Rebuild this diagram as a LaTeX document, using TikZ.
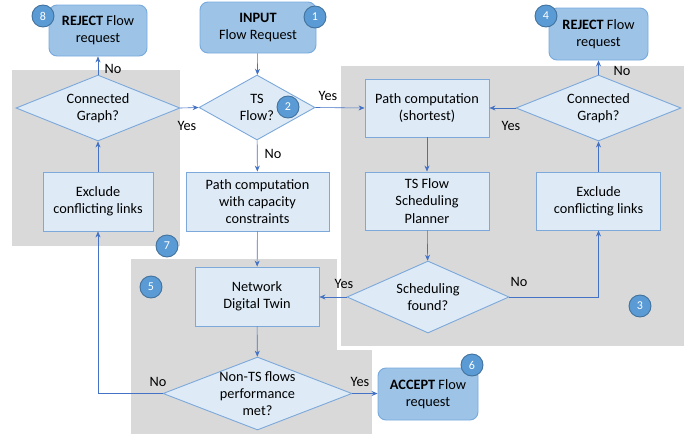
\documentclass[tikz,border=0pt]{standalone}
\usepackage{fontspec}
\setmainfont{Carlito}
\usepackage{tikz}
\usetikzlibrary{arrows.meta, shapes.geometric, calc}
\definecolor{Panel}{RGB}{217,217,217}
\definecolor{Box_Fill}{RGB}{222,235,247}
\definecolor{Box_Line}{RGB}{124,168,218}
\definecolor{End_Fill}{RGB}{157,195,230}
\definecolor{End_Line}{RGB}{120,170,222}
\definecolor{Badge_Fill}{RGB}{91,155,213}
\definecolor{Badge_Line}{RGB}{65,113,156}
\definecolor{Arrow}{RGB}{68,114,196}

\tikzset{
    box/.style={rectangle, draw=Box_Line, fill=Box_Fill, align=center, inner sep=0pt, line width=0.9pt},
    endbox/.style={rectangle, rounded corners=8pt, draw=End_Line, fill=End_Fill, align=center, inner sep=0pt, line width=0.9pt},
    decision/.style={diamond, draw=Box_Line, fill=Box_Fill, inner sep=0pt, line width=0.9pt},
    badge/.style={circle, draw=Badge_Line, fill=Badge_Fill, text=white, minimum size=22pt, inner sep=0pt, line width=0.9pt, font=\fontsize{12}{14}\selectfont},
    flow/.style={draw=Arrow, line width=0.6pt, -{Stealth[length=6pt,width=5pt]}},
}

\begin{document}
\begin{tikzpicture}[x=1pt, y=-1pt, font=\fontsize{14.3}{17.3}\selectfont]
    %% Background
    \useasboundingbox (0,0) rectangle (694,434);

    %% Panels
    \fill[Panel] (12,70) rectangle (180,246);
    \fill[Panel] (131,259) rectangle (372,434);
    \fill[white] (337,62) rectangle (688,350);
    \fill[Panel] (341,66) rectangle (684,346);

    %% Start and end
    \node[endbox, minimum width=116pt, minimum height=51pt] (input) at (258,27.5) {\textbf{INPUT}\\Flow Request};
    \node[endbox, minimum width=98pt, minimum height=51pt] (rejL) at (98,30.5) {\textbf{REJECT} Flow\\request};
    \node[endbox, minimum width=99pt, minimum height=52pt] (rejR) at (598.5,34) {\textbf{REJECT} Flow\\request};
    \node[endbox, minimum width=100pt, minimum height=52pt] (accept) at (428,394) {\textbf{ACCEPT} Flow\\request};

    %% Decisions
    \node[decision, minimum width=116pt, minimum height=65pt,
        label={[align=center]center:TS\\Flow?}] (tsflow) at (257,107.5) {};
    \node[decision, minimum width=164pt, minimum height=66pt,
        label={[align=center]center:Connected\\Graph?}] (cgL) at (98,108) {};
    \node[decision, minimum width=165pt, minimum height=66pt,
        label={[align=center]center:Connected\\Graph?}] (cgR) at (598.5,108) {};
    \node[decision, minimum width=162pt, minimum height=72pt,
        label={[align=center]center:Scheduling\\found?}] (sched) at (428,297) {};
    \node[decision, minimum width=189pt, minimum height=73pt,
        label={[align=center]center:Non-TS flows\\performance\\met?}] (nonts) at (257.5,393.5) {};

    %% Steps
    \node[box, minimum width=124pt, minimum height=58pt] (pathS) at (427,108) {Path computation\\(shortest)};
    \node[box, minimum width=124pt, minimum height=58pt] (plan) at (427,201) {TS Flow\\Scheduling\\Planner};
    \node[box, minimum width=124pt, minimum height=58pt] (exR) at (598.5,201) {Exclude\\conflicting links};
    \node[box, minimum width=110pt, minimum height=59pt] (exL) at (98,201.5) {Exclude\\conflicting links};
    \node[box, minimum width=143pt, minimum height=59pt] (pathC) at (257.5,201.5) {Path computation\\with capacity\\constraints};
    \node[box, minimum width=124pt, minimum height=59pt] (ndt) at (257,296.5) {Network\\Digital Twin};

    %% Connectors
    \draw[flow] (input) -- (tsflow);
    \draw[flow] (tsflow.east) -- (pathS.west);
    \draw[flow] (tsflow) -- (pathC);
    \draw[flow] (pathC) -- (ndt);
    \draw[flow] (pathS) -- (plan);
    \draw[flow] (plan) -- (sched);
    \draw[flow] (sched.west) -- (sched.west -| ndt.east);
    \draw[flow] (sched.east) -| (exR.south);
    \draw[flow] (exR) -- (cgR);
    \draw[flow] (cgR.west) -- (cgR.west -| pathS.east);
    \draw[flow] (cgR) -- (rejR);
    \draw[flow] (ndt) -- (nonts);
    \draw[flow] (nonts.east) -- (nonts.east -| accept.west);
    \draw[flow] (nonts.west) -| (exL.south);
    \draw[flow] (exL) -- (cgL);
    \draw[flow] (cgL.east) -- (tsflow.west);
    \draw[flow] (cgL) -- (rejL);

    %% Answers
    \node (yesTS) at (328,96) {Yes};
    \node (noTS) at (273,154) {No};
    \node (yesSched) at (344,284) {Yes};
    \node (noSched) at (519,282) {No};
    \node (yesCgR) at (511,126) {Yes};
    \node (noCgR) at (622,71) {No};
    \node (yesNon) at (360,382) {Yes};
    \node (noNon) at (158,382) {No};
    \node (yesCgL) at (187,126) {Yes};
    \node (noCgL) at (113,69) {No};

    %% Badges
    \node[badge] (b1) at (315,17) {1};
    \node[badge] (b2) at (288,107) {2};
    \node[badge] (b3) at (640,306) {3};
    \node[badge] (b4) at (546,16) {4};
    \node[badge] (b5) at (151,287) {5};
    \node[badge] (b6) at (472,365) {6};
    \node[badge] (b7) at (167,246) {7};
    \node[badge] (b8) at (43,16) {8};
\end{tikzpicture}
\end{document}
